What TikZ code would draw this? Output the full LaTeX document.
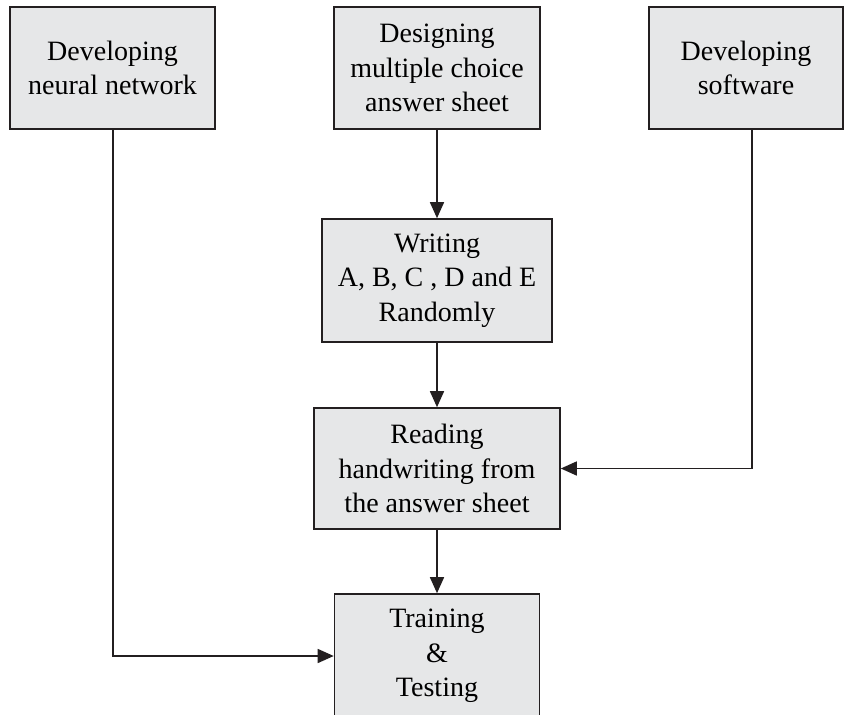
\documentclass[tikz,border=0pt]{standalone}
\usepackage{fontspec}
\setmainfont{Liberation Serif}
\usetikzlibrary{arrows.meta}
\definecolor{boxgray}{HTML}{E6E7E8}
\definecolor{linegray}{HTML}{231F20}
\begin{document}
\begin{tikzpicture}[x=0.75pt,y=-0.75pt,
  box/.style={draw=linegray,fill=boxgray,line width=1.6pt*0.75,inner sep=0pt,
    align=center,anchor=center,
    font=\fontsize{21pt}{26pt}\selectfont},
  conn/.style={draw=linegray,line width=1.5pt*0.75,
    -{Triangle[length=12pt,width=10.5pt]}},
  plain/.style={draw=linegray,line width=1.5pt*0.75}]
\useasboundingbox (0,0) rectangle (844,715);
\clip (0,0) rectangle (844,715);
\fill[white] (0,0) rectangle (844,715);
\node[box,minimum width=205*0.75pt,minimum height=122*0.75pt] (nn) at (112.5,68) {Developing\\neural network};
\node[box,minimum width=206*0.75pt,minimum height=122*0.75pt] (des) at (437,68) {Designing\\multiple choice\\answer sheet};
\node[box,minimum width=194*0.75pt,minimum height=122*0.75pt] (sw) at (746,68) {Developing\\software};
\node[box,minimum width=230*0.75pt,minimum height=123*0.75pt] (wr) at (437,280.5) {Writing\\A,~B, C , D and E\\Randomly};
\node[box,minimum width=246*0.75pt,minimum height=121*0.75pt] (rd) at (437,468.5) {Reading\\handwriting from\\the answer sheet};
\node[box,minimum width=205*0.75pt,minimum height=124*0.75pt] (tt) at (437,656) {Training\\\&\\Testing};
\coordinate (swo) at (752,129);
\coordinate (nno) at (113,129);
\draw[conn] (des.south) -- (wr.north);
\draw[conn] (wr.south) -- (rd.north);
\draw[conn] (rd.south) -- (tt.north);
\draw[conn] (swo) |- (rd.east);
\draw[conn] (nno) |- (tt.west);
\end{tikzpicture}
\end{document}
